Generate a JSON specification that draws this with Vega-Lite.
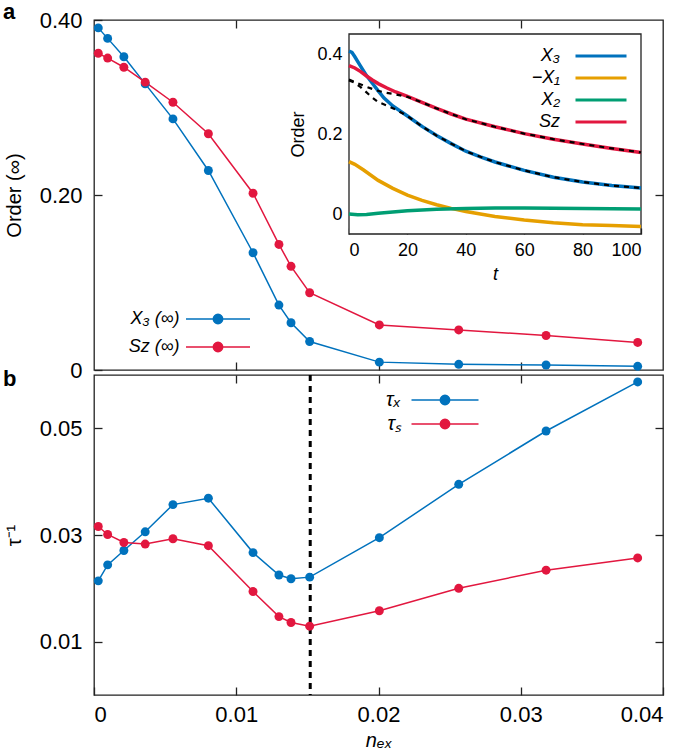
{
  "$schema": "https://vega.github.io/schema/vega-lite/v6.json",
  "padding": {"left": 2, "top": 0, "right": 2, "bottom": 0},
  "background": "white",
  "datasets": {
    "main": [
      {"n": 0.0003, "v": 0.391, "s": "X₃ (∞)"},
      {"n": 0.00096, "v": 0.379, "s": "X₃ (∞)"},
      {"n": 0.0021, "v": 0.358, "s": "X₃ (∞)"},
      {"n": 0.0036, "v": 0.327, "s": "X₃ (∞)"},
      {"n": 0.00555, "v": 0.287, "s": "X₃ (∞)"},
      {"n": 0.00804, "v": 0.228, "s": "X₃ (∞)"},
      {"n": 0.01118, "v": 0.134, "s": "X₃ (∞)"},
      {"n": 0.0130, "v": 0.0742, "s": "X₃ (∞)"},
      {"n": 0.01385, "v": 0.054, "s": "X₃ (∞)"},
      {"n": 0.01516, "v": 0.0326, "s": "X₃ (∞)"},
      {"n": 0.02006, "v": 0.009, "s": "X₃ (∞)"},
      {"n": 0.02564, "v": 0.0065, "s": "X₃ (∞)"},
      {"n": 0.03178, "v": 0.0057, "s": "X₃ (∞)"},
      {"n": 0.03822, "v": 0.0042, "s": "X₃ (∞)"},
      {"n": 0.0003, "v": 0.362, "s": "Sz (∞)"},
      {"n": 0.00096, "v": 0.3565, "s": "Sz (∞)"},
      {"n": 0.0021, "v": 0.346, "s": "Sz (∞)"},
      {"n": 0.0036, "v": 0.329, "s": "Sz (∞)"},
      {"n": 0.00555, "v": 0.306, "s": "Sz (∞)"},
      {"n": 0.00804, "v": 0.270, "s": "Sz (∞)"},
      {"n": 0.01118, "v": 0.202, "s": "Sz (∞)"},
      {"n": 0.0130, "v": 0.1435, "s": "Sz (∞)"},
      {"n": 0.01385, "v": 0.1185, "s": "Sz (∞)"},
      {"n": 0.01516, "v": 0.0883, "s": "Sz (∞)"},
      {"n": 0.02006, "v": 0.0515, "s": "Sz (∞)"},
      {"n": 0.02564, "v": 0.0458, "s": "Sz (∞)"},
      {"n": 0.03178, "v": 0.0394, "s": "Sz (∞)"},
      {"n": 0.03822, "v": 0.0315, "s": "Sz (∞)"}
    ],
    "tau": [
      {"n": 0.0003, "v": 0.0214, "s": "τₓ"},
      {"n": 0.00096, "v": 0.0244, "s": "τₓ"},
      {"n": 0.0021, "v": 0.0271, "s": "τₓ"},
      {"n": 0.0036, "v": 0.0306, "s": "τₓ"},
      {"n": 0.00555, "v": 0.0357, "s": "τₓ"},
      {"n": 0.00804, "v": 0.0369, "s": "τₓ"},
      {"n": 0.01118, "v": 0.0267, "s": "τₓ"},
      {"n": 0.0130, "v": 0.0225, "s": "τₓ"},
      {"n": 0.01385, "v": 0.0218, "s": "τₓ"},
      {"n": 0.01516, "v": 0.0221, "s": "τₓ"},
      {"n": 0.02006, "v": 0.0295, "s": "τₓ"},
      {"n": 0.02564, "v": 0.0395, "s": "τₓ"},
      {"n": 0.03178, "v": 0.0495, "s": "τₓ"},
      {"n": 0.03822, "v": 0.0587, "s": "τₓ"},
      {"n": 0.0003, "v": 0.0316, "s": "τₛ"},
      {"n": 0.00096, "v": 0.0301, "s": "τₛ"},
      {"n": 0.0021, "v": 0.0286, "s": "τₛ"},
      {"n": 0.0036, "v": 0.0283, "s": "τₛ"},
      {"n": 0.00555, "v": 0.0293, "s": "τₛ"},
      {"n": 0.00804, "v": 0.0280, "s": "τₛ"},
      {"n": 0.01118, "v": 0.0194, "s": "τₛ"},
      {"n": 0.0130, "v": 0.0147, "s": "τₛ"},
      {"n": 0.01385, "v": 0.0136, "s": "τₛ"},
      {"n": 0.01516, "v": 0.0129, "s": "τₛ"},
      {"n": 0.02006, "v": 0.0158, "s": "τₛ"},
      {"n": 0.02564, "v": 0.0200, "s": "τₛ"},
      {"n": 0.03178, "v": 0.0234, "s": "τₛ"},
      {"n": 0.03822, "v": 0.0257, "s": "τₛ"}
    ],
    "inset": [
      {"t": 0, "v": 0.407, "s": "X₃"}, {"t": 1, "v": 0.404, "s": "X₃"}, {"t": 2, "v": 0.393, "s": "X₃"},
      {"t": 3, "v": 0.381, "s": "X₃"}, {"t": 4, "v": 0.369, "s": "X₃"}, {"t": 6, "v": 0.346, "s": "X₃"},
      {"t": 8, "v": 0.327, "s": "X₃"}, {"t": 10, "v": 0.308, "s": "X₃"}, {"t": 12, "v": 0.290, "s": "X₃"},
      {"t": 15, "v": 0.270, "s": "X₃"}, {"t": 20, "v": 0.245, "s": "X₃"}, {"t": 25, "v": 0.219, "s": "X₃"},
      {"t": 30, "v": 0.196, "s": "X₃"}, {"t": 35, "v": 0.176, "s": "X₃"}, {"t": 40, "v": 0.157, "s": "X₃"},
      {"t": 45, "v": 0.143, "s": "X₃"}, {"t": 50, "v": 0.130, "s": "X₃"}, {"t": 60, "v": 0.109, "s": "X₃"},
      {"t": 70, "v": 0.092, "s": "X₃"}, {"t": 80, "v": 0.080, "s": "X₃"}, {"t": 90, "v": 0.071, "s": "X₃"},
      {"t": 100, "v": 0.065, "s": "X₃"},
      {"t": 0, "v": 0.131, "s": "−X₁"}, {"t": 2, "v": 0.124, "s": "−X₁"}, {"t": 5, "v": 0.110, "s": "−X₁"},
      {"t": 10, "v": 0.084, "s": "−X₁"}, {"t": 15, "v": 0.064, "s": "−X₁"}, {"t": 20, "v": 0.047, "s": "−X₁"},
      {"t": 25, "v": 0.034, "s": "−X₁"}, {"t": 30, "v": 0.023, "s": "−X₁"}, {"t": 35, "v": 0.014, "s": "−X₁"},
      {"t": 40, "v": 0.006, "s": "−X₁"}, {"t": 50, "v": -0.006, "s": "−X₁"}, {"t": 60, "v": -0.015, "s": "−X₁"},
      {"t": 70, "v": -0.022, "s": "−X₁"}, {"t": 80, "v": -0.027, "s": "−X₁"}, {"t": 90, "v": -0.029, "s": "−X₁"},
      {"t": 100, "v": -0.031, "s": "−X₁"},
      {"t": 0, "v": 0.0, "s": "X₂"}, {"t": 3, "v": -0.002, "s": "X₂"}, {"t": 6, "v": -0.001, "s": "X₂"},
      {"t": 10, "v": 0.002, "s": "X₂"}, {"t": 15, "v": 0.005, "s": "X₂"}, {"t": 20, "v": 0.008, "s": "X₂"},
      {"t": 30, "v": 0.012, "s": "X₂"}, {"t": 40, "v": 0.014, "s": "X₂"}, {"t": 50, "v": 0.015, "s": "X₂"},
      {"t": 60, "v": 0.015, "s": "X₂"}, {"t": 70, "v": 0.0145, "s": "X₂"}, {"t": 80, "v": 0.014, "s": "X₂"},
      {"t": 90, "v": 0.013, "s": "X₂"}, {"t": 100, "v": 0.0125, "s": "X₂"},
      {"t": 0, "v": 0.371, "s": "Sz"}, {"t": 2, "v": 0.365, "s": "Sz"}, {"t": 4, "v": 0.356, "s": "Sz"},
      {"t": 6, "v": 0.345, "s": "Sz"}, {"t": 8, "v": 0.335, "s": "Sz"}, {"t": 10, "v": 0.326, "s": "Sz"},
      {"t": 13, "v": 0.315, "s": "Sz"}, {"t": 16, "v": 0.305, "s": "Sz"}, {"t": 20, "v": 0.294, "s": "Sz"},
      {"t": 25, "v": 0.279, "s": "Sz"}, {"t": 30, "v": 0.264, "s": "Sz"}, {"t": 35, "v": 0.250, "s": "Sz"},
      {"t": 40, "v": 0.237, "s": "Sz"}, {"t": 50, "v": 0.218, "s": "Sz"}, {"t": 60, "v": 0.201, "s": "Sz"},
      {"t": 70, "v": 0.187, "s": "Sz"}, {"t": 80, "v": 0.175, "s": "Sz"}, {"t": 90, "v": 0.164, "s": "Sz"},
      {"t": 100, "v": 0.154, "s": "Sz"}
    ],
    "fits": [
      {"t": 0, "v": 0.336, "f": "S"}, {"t": 3, "v": 0.327, "f": "S"}, {"t": 6, "v": 0.318, "f": "S"},
      {"t": 9, "v": 0.310, "f": "S"}, {"t": 12, "v": 0.304, "f": "S"}, {"t": 16, "v": 0.299, "f": "S"},
      {"t": 20, "v": 0.293, "f": "S"}, {"t": 25, "v": 0.279, "f": "S"}, {"t": 30, "v": 0.264, "f": "S"},
      {"t": 35, "v": 0.250, "f": "S"}, {"t": 40, "v": 0.237, "f": "S"}, {"t": 50, "v": 0.218, "f": "S"},
      {"t": 60, "v": 0.201, "f": "S"}, {"t": 70, "v": 0.187, "f": "S"}, {"t": 80, "v": 0.175, "f": "S"},
      {"t": 90, "v": 0.164, "f": "S"}, {"t": 100, "v": 0.154, "f": "S"},
      {"t": 0, "v": 0.334, "f": "X"}, {"t": 2, "v": 0.328, "f": "X"}, {"t": 4, "v": 0.317, "f": "X"},
      {"t": 6, "v": 0.304, "f": "X"}, {"t": 8, "v": 0.291, "f": "X"}, {"t": 10, "v": 0.280, "f": "X"},
      {"t": 13, "v": 0.271, "f": "X"}, {"t": 16, "v": 0.261, "f": "X"}, {"t": 20, "v": 0.245, "f": "X"},
      {"t": 25, "v": 0.219, "f": "X"}, {"t": 30, "v": 0.196, "f": "X"}, {"t": 35, "v": 0.176, "f": "X"},
      {"t": 40, "v": 0.157, "f": "X"}, {"t": 45, "v": 0.143, "f": "X"}, {"t": 50, "v": 0.130, "f": "X"},
      {"t": 60, "v": 0.109, "f": "X"}, {"t": 70, "v": 0.092, "f": "X"}, {"t": 80, "v": 0.080, "f": "X"},
      {"t": 90, "v": 0.071, "f": "X"}, {"t": 100, "v": 0.065, "f": "X"}
    ]
  },
  "spacing": 5,
  "bounds": "flush",
  "vconcat": [
    {
      "width": 569,
      "height": 350,
      "title": {"text": "a", "anchor": "start", "frame": "group", "dx": -91, "dy": 32, "offset": 0, "baseline": "alphabetic", "fontSize": 22, "fontWeight": "bold"},
      "layer": [
        {
          "data": {"name": "main"},
          "layer": [
            {
              "mark": {"type": "line", "strokeWidth": 1.5},
              "encoding": {
                "x": {"field": "n", "type": "quantitative", "scale": {"domain": [0, 0.04], "nice": false, "zero": false},
                      "axis": {"orient": "bottom", "values": [0.01, 0.02, 0.03], "labels": false, "title": null}},
                "y": {"field": "v", "type": "quantitative", "scale": {"domain": [0, 0.4], "nice": false, "zero": false},
                      "axis": {"orient": "left", "values": [0, 0.2, 0.4], "labelExpr": "datum.value == 0 ? '0' : format(datum.value, '.2f')", "title": "Order (∞)", "titlePadding": 15}},
                "color": {"field": "s", "type": "nominal", "scale": {"domain": ["X₃ (∞)", "Sz (∞)"], "range": ["#0072BD", "#E2173F"]}}
              }
            },
            {
              "mark": {"type": "point", "filled": true, "size": 80, "opacity": 1},
              "encoding": {
                "x": {"field": "n", "type": "quantitative", "scale": {"domain": [0, 0.04], "nice": false, "zero": false},
                      "axis": {"orient": "top", "values": [0.01, 0.02, 0.03], "labels": false, "title": null}},
                "y": {"field": "v", "type": "quantitative", "scale": {"domain": [0, 0.4], "nice": false, "zero": false},
                      "axis": {"orient": "right", "values": [0.2], "labels": false, "title": null}},
                "color": {"field": "s", "type": "nominal", "scale": {"domain": ["X₃ (∞)", "Sz (∞)"], "range": ["#0072BD", "#E2173F"]},
                          "legend": {"orient": "none", "legendX": 115, "legendY": 290, "title": null,
                                     "symbolType": "M-6.4,0H6.4M-0.94,0A0.94,0.94,0,1,1,0.94,0A0.94,0.94,0,1,1,-0.94,0Z",
                                     "symbolSize": 100, "symbolStrokeWidth": 1.5, "labelAlign": "right", "labelOffset": -47.5,
                                     "labelFontSize": 18, "labelFontStyle": "italic", "rowPadding": 10,
                                     "encode": {"symbols": {"update": {
                                        "fill": {"signal": "datum.value === 'X₃ (∞)' ? '#0072BD' : '#E2173F'"},
                                        "stroke": {"signal": "datum.value === 'X₃ (∞)' ? '#0072BD' : '#E2173F'"},
                                        "opacity": {"value": 1}}}}}}
              }
            }
          ],
          "resolve": {"axis": {"x": "independent", "y": "independent"}}
        },
        {
          "layer": [
            {
              "data": {"values": [{}]},
              "mark": {"type": "rect", "fill": "white", "stroke": "#222222", "strokeWidth": 1.3},
              "encoding": {
                "x": {"datum": 0, "type": "quantitative", "scale": {"domain": [0, 100], "range": [255, 547], "nice": false, "zero": false}},
                "x2": {"datum": 100},
                "y": {"datum": -0.05, "type": "quantitative", "scale": {"domain": [-0.05, 0.45], "range": [214, 14], "nice": false, "zero": false}},
                "y2": {"datum": 0.45}
              }
            },
            {
              "data": {"name": "inset"},
              "mark": {"type": "line", "strokeWidth": 3.5},
              "encoding": {
                "x": {"field": "t", "type": "quantitative", "scale": {"domain": [0, 100], "range": [255, 547], "nice": false, "zero": false},
                      "axis": {"orient": "bottom", "offset": -136, "values": [0, 20, 40, 60, 80, 100], "labelFontSize": 18, "tickSize": -6, "labelPadding": 13, "title": "t", "titleFontStyle": "italic", "titleFontSize": 18, "titlePadding": 6}},
                "y": {"field": "v", "type": "quantitative", "scale": {"domain": [-0.05, 0.45], "range": [214, 14], "nice": false, "zero": false},
                      "axis": {"orient": "left", "offset": -255, "values": [0, 0.2, 0.4], "labelFontSize": 18, "tickSize": -6, "labelPadding": 13, "labelExpr": "datum.value == 0 ? '0' : format(datum.value, '.1f')", "title": "Order", "titleFontSize": 18, "titlePadding": 9}},
                "color": {"field": "s", "type": "nominal", "scale": {"domain": ["X₃", "−X₁", "X₂", "Sz"], "range": ["#0072BD", "#E69F00", "#009E73", "#E2173F"]},
                          "legend": {"orient": "none", "legendX": 498, "legendY": 27, "title": null,
                                     "symbolType": "M-5.1,0H5.1", "symbolSize": 100, "symbolStrokeWidth": 3,
                                     "labelAlign": "right", "labelOffset": -50, "labelFontSize": 18, "labelFontStyle": "italic", "rowPadding": 4}}
              }
            },
            {
              "data": {"name": "fits"},
              "mark": {"type": "line", "strokeWidth": 2.2, "strokeDash": [5, 5], "color": "black"},
              "encoding": {
                "x": {"field": "t", "type": "quantitative", "scale": {"domain": [0, 100], "range": [255, 547], "nice": false, "zero": false}},
                "y": {"field": "v", "type": "quantitative", "scale": {"domain": [-0.05, 0.45], "range": [214, 14], "nice": false, "zero": false}},
                "detail": {"field": "f", "type": "nominal"}
              }
            }
          ]
        }
      ],
      "resolve": {"scale": {"x": "independent", "y": "independent", "color": "independent"}}
    },
    {
      "width": 569,
      "height": 320,
      "title": {"text": "b", "anchor": "start", "frame": "group", "dx": -91, "dy": 34, "offset": 0, "baseline": "alphabetic", "fontSize": 22, "fontWeight": "bold"},
      "data": {"name": "tau"},
      "layer": [
        {
          "data": {"values": [{}]},
          "mark": {"type": "rule", "strokeDash": [6, 5], "strokeWidth": 3, "color": "black"},
          "encoding": {"x": {"datum": 0.0152, "type": "quantitative", "scale": {"domain": [0, 0.04], "nice": false, "zero": false}, "axis": null}}
        },
        {
          "mark": {"type": "line", "strokeWidth": 1.5},
          "encoding": {
            "x": {"field": "n", "type": "quantitative", "scale": {"domain": [0, 0.04], "nice": false, "zero": false},
                  "axis": {"orient": "bottom", "values": [0, 0.01, 0.02, 0.03, 0.04], "labelExpr": "datum.value == 0 ? '0' : format(datum.value, '.2f')", "labelPadding": 17, "title": "nₑₓ", "titleFontStyle": "italic", "titlePadding": 5}},
            "y": {"field": "v", "type": "quantitative", "scale": {"domain": [0, 0.06], "nice": false, "zero": false},
                  "axis": {"orient": "left", "values": [0.01, 0.03, 0.05], "format": ".2f", "title": "τ⁻¹", "titlePadding": 15}},
            "color": {"field": "s", "type": "nominal", "scale": {"domain": ["τₓ", "τₛ"], "range": ["#0072BD", "#E2173F"]}}
          }
        },
        {
          "mark": {"type": "point", "filled": true, "size": 80, "opacity": 1},
          "encoding": {
            "x": {"field": "n", "type": "quantitative", "scale": {"domain": [0, 0.04], "nice": false, "zero": false},
                  "axis": {"orient": "top", "values": [0.01, 0.02, 0.03], "labels": false, "title": null}},
            "y": {"field": "v", "type": "quantitative", "scale": {"domain": [0, 0.06], "nice": false, "zero": false},
                  "axis": {"orient": "right", "values": [0.01, 0.03, 0.05], "labels": false, "title": null}},
            "color": {"field": "s", "type": "nominal", "scale": {"domain": ["τₓ", "τₛ"], "range": ["#0072BD", "#E2173F"]},
                      "legend": {"orient": "none", "legendX": 341, "legendY": 370, "title": null,
                                 "symbolType": "M-6.7,0H6.7M-0.94,0A0.94,0.94,0,1,1,0.94,0A0.94,0.94,0,1,1,-0.94,0Z",
                                 "symbolSize": 100, "symbolStrokeWidth": 1.5, "labelAlign": "right", "labelOffset": -54,
                                 "labelFontSize": 20, "labelFontStyle": "italic", "rowPadding": 4,
                                 "encode": {"symbols": {"update": {
                                    "fill": {"signal": "datum.value === 'τₓ' ? '#0072BD' : '#E2173F'"},
                                    "stroke": {"signal": "datum.value === 'τₓ' ? '#0072BD' : '#E2173F'"},
                                    "opacity": {"value": 1}}}}}}
          }
        }
      ],
      "resolve": {"axis": {"x": "independent", "y": "independent"}}
    }
  ],
  "config": {
    "font": "Liberation Sans",
    "view": {"stroke": "#222222", "strokeWidth": 1.3},
    "axis": {"domain": false, "grid": false, "tickColor": "#222222", "tickSize": -8, "tickWidth": 1.3, "minExtent": 0,
             "labelFontSize": 22, "labelColor": "black", "labelPadding": 20,
             "titleFontSize": 20, "titleFontWeight": "normal", "titleColor": "black"},
    "legend": {"labelColor": "black", "labelFont": "Liberation Sans"},
    "title": {"color": "black"}
  }
}
